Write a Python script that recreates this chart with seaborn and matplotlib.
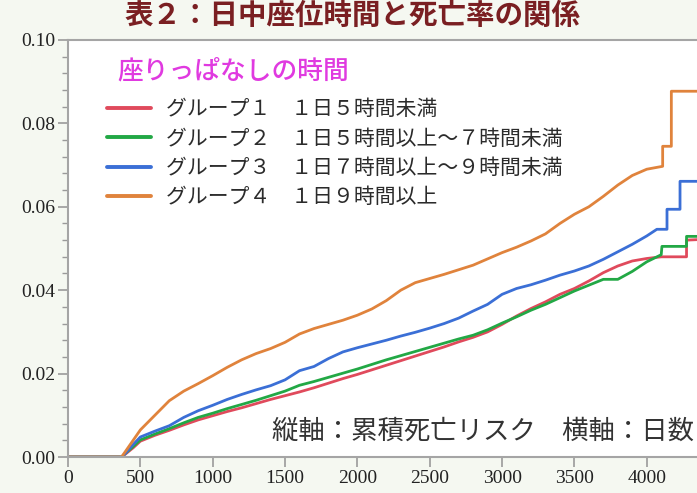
"""
Cumulative mortality risk by daily sitting time, recreated with seaborn.
"""

import matplotlib

matplotlib.use("Agg")
import matplotlib.pyplot as plt
import pandas as pd
import seaborn as sns
from matplotlib.lines import Line2D

# ---- data ----
# shared day grid up to day 3900, then each group has its own tail with the late jumps
days_base = [0, 370, 400, 450, 500, 600, 700, 800, 900, 1000, 1100, 1200, 1300,
             1400, 1500, 1600, 1700, 1800, 1900, 2000, 2100, 2200, 2300, 2400,
             2500, 2600, 2700, 2800, 2900, 3000, 3100, 3200, 3300, 3400, 3500,
             3600, 3700, 3800, 3900]

risk_g1 = [0, 0, 0.0008, 0.0022, 0.0038, 0.0052, 0.0064, 0.0077, 0.0089, 0.0099,
           0.0109, 0.0118, 0.0128, 0.0138, 0.0147, 0.0156, 0.0166, 0.0177, 0.0188,
           0.0198, 0.0209, 0.0220, 0.0231, 0.0242, 0.0253, 0.0264, 0.0276, 0.0287,
           0.0300, 0.0318, 0.0338, 0.0356, 0.0372, 0.0390, 0.0404, 0.0422, 0.0442,
           0.0458, 0.0470]
risk_g2 = [0, 0, 0.0010, 0.0025, 0.0041, 0.0055, 0.0068, 0.0082, 0.0095, 0.0105,
           0.0116, 0.0126, 0.0136, 0.0147, 0.0158, 0.0172, 0.0181, 0.0191, 0.0201,
           0.0211, 0.0222, 0.0233, 0.0243, 0.0253, 0.0263, 0.0273, 0.0283, 0.0292,
           0.0305, 0.0321, 0.0336, 0.0352, 0.0366, 0.0382, 0.0398, 0.0412, 0.0426,
           0.0426, 0.0445]
risk_g3 = [0, 0, 0.0010, 0.0030, 0.0048, 0.0062, 0.0075, 0.0095, 0.0111, 0.0124,
           0.0138, 0.0150, 0.0161, 0.0171, 0.0185, 0.0207, 0.0217, 0.0236, 0.0252,
           0.0262, 0.0271, 0.0280, 0.0290, 0.0299, 0.0309, 0.0320, 0.0333, 0.0350,
           0.0366, 0.0390, 0.0404, 0.0413, 0.0424, 0.0436, 0.0446, 0.0458, 0.0474,
           0.0492, 0.0510]
risk_g4 = [0, 0, 0.0015, 0.0040, 0.0065, 0.0100, 0.0135, 0.0158, 0.0176, 0.0195,
           0.0215, 0.0233, 0.0248, 0.0260, 0.0275, 0.0295, 0.0308, 0.0318, 0.0328,
           0.0340, 0.0355, 0.0375, 0.0400, 0.0418, 0.0428, 0.0438, 0.0449, 0.0460,
           0.0475, 0.0490, 0.0503, 0.0518, 0.0535, 0.0560, 0.0582, 0.0600, 0.0625,
           0.0652, 0.0675]

tail_days_g1 = [4000, 4100, 4275, 4275, 4400]
tail_risk_g1 = [0.0476, 0.0480, 0.0480, 0.0520, 0.0522]
tail_days_g2 = [4000, 4100, 4105, 4275, 4275, 4400]
tail_risk_g2 = [0.0468, 0.0485, 0.0505, 0.0505, 0.0529, 0.0529]
tail_days_g3 = [4000, 4070, 4140, 4140, 4230, 4230, 4400]
tail_risk_g3 = [0.0530, 0.0546, 0.0546, 0.0594, 0.0594, 0.0661, 0.0661]
tail_days_g4 = [4000, 4110, 4110, 4170, 4170, 4400]
tail_risk_g4 = [0.0690, 0.0697, 0.0745, 0.0745, 0.0877, 0.0877]

groups = ["グループ１", "グループ２", "グループ３", "グループ４"]
group_labels = [
    "グループ１　１日５時間未満",
    "グループ２　１日５時間以上～７時間未満",
    "グループ３　１日７時間以上～９時間未満",
    "グループ４　１日９時間以上",
]
colors = ["#e04a5c", "#22a845", "#3b6fd6", "#e0833c"]

x_ticks = [0, 500, 1000, 1500, 2000, 2500, 3000, 3500, 4000, 4500]
y_ticks = [0.00, 0.02, 0.04, 0.06, 0.08, 0.10]

series = [
    (risk_g1, tail_days_g1, tail_risk_g1),
    (risk_g2, tail_days_g2, tail_risk_g2),
    (risk_g3, tail_days_g3, tail_risk_g3),
    (risk_g4, tail_days_g4, tail_risk_g4),
]
frames = []
for g, (base, tdays, trisk) in zip(groups, series):
    frames.append(pd.DataFrame({"day": days_base + tdays, "risk": base + trisk,
                                "group": g}))
df = pd.concat(frames, ignore_index=True)

sns.set_style("ticks")
plt.rcParams["font.family"] = ["Noto Sans CJK JP", "DejaVu Sans"]

fig = plt.figure(figsize=(6.97, 4.93), dpi=100, facecolor="#f5f8f1")
ax = fig.add_axes([0.0976, 0.073, 0.9756, 0.846])
ax.set_facecolor("white")

# sort=False keeps the vertical jumps (repeated days) in the order given
sns.lineplot(data=df, x="day", y="risk", hue="group", hue_order=groups,
             palette=colors, estimator=None, sort=False, linewidth=2.0,
             legend=False, ax=ax)

ax.set_xlim(0, 4700)
ax.set_ylim(0, 0.10)
ax.set_xticks(x_ticks)
ax.set_yticks(y_ticks)
ax.set_yticks([i * 0.004 for i in range(26)], minor=True)
ax.set_xticklabels([str(v) for v in x_ticks])
ax.set_yticklabels([f"{v:.2f}" for v in y_ticks])
for lab in ax.get_xticklabels() + ax.get_yticklabels():
    lab.set_fontfamily("Liberation Serif")
    lab.set_fontsize(14)
    lab.set_color("#222222")
ax.tick_params(axis="both", which="major", direction="out", length=7, width=1.2,
               color="#9a9a9a", pad=2)
ax.tick_params(axis="y", which="minor", direction="out", length=4, width=1.0,
               color="#9a9a9a")
ax.set_xlabel("")
ax.set_ylabel("")
for side in ["left", "bottom", "top", "right"]:
    ax.spines[side].set_color("#a5a5a5")
    ax.spines[side].set_linewidth(1.5)

handles = [Line2D([], [], color=c, linewidth=2.8) for c in colors]
leg = ax.legend(handles, group_labels, loc="upper left",
                bbox_to_anchor=(0.058, 0.86), frameon=False, fontsize=15,
                handlelength=2.1, handletextpad=0.7, labelspacing=0.35,
                borderpad=0, borderaxespad=0)
for t in leg.get_texts():
    t.set_color("#2b2b2b")

fig.text(0.505, 0.968, "表２：日中座位時間と死亡率の関係", ha="center",
         va="center", fontsize=20.5, fontweight="bold", color="#7a1f22")
ax.text(0.073, 0.925, "座りっぱなしの時間", transform=ax.transAxes, ha="left",
        va="center", fontsize=18.5, fontweight="medium", color="#e03ae0")
ax.text(0.300, 0.063, "縦軸：累積死亡リスク　横軸：日数", transform=ax.transAxes,
        ha="left", va="center", fontsize=19, color="#333333")

fig.savefig("out.png", dpi=100, facecolor=fig.get_facecolor())
